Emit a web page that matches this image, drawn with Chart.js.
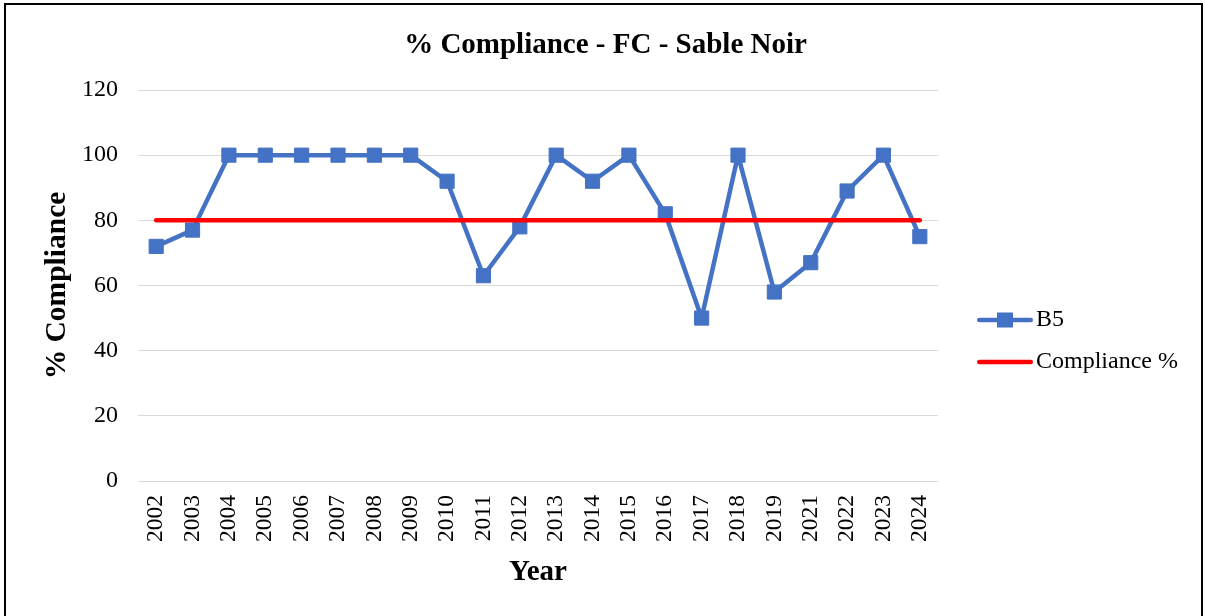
<!DOCTYPE html>
<html>
<head>
<meta charset="utf-8">
<script src="https://cdn.jsdelivr.net/npm/chart.js@4/dist/chart.umd.min.js"></script>
<style>
  html, body { margin: 0; padding: 0; background: #fff; overflow: hidden; }
  #wrap { position: relative; width: 1205px; height: 616px; }
  #c { position: absolute; left: 0; top: 0; }
  #frame { position: absolute; left: 4px; top: 3px; width: 1195px; height: 640px; border: 2px solid #000; pointer-events: none; }
</style>
</head>
<body>
<div id="wrap">
  <canvas id="c" width="1205" height="616"></canvas>
  <div id="frame"></div>
</div>
<script>
// ---- data ----
const categories = ['2002','2003','2004','2005','2006','2007','2008','2009','2010','2011','2012','2013','2014','2015','2016','2017','2018','2019','2021','2022','2023','2024'];
const b5Values = [72, 77, 100, 100, 100, 100, 100, 100, 92, 63, 78, 100, 92, 100, 82, 50, 100, 58, 67, 89, 100, 75];
const complianceValues = [80, 80, 80, 80, 80, 80, 80, 80, 80, 80, 80, 80, 80, 80, 80, 80, 80, 80, 80, 80, 80, 80];
const seriesNames = ['B5', 'Compliance %'];
const yMin = 0;
const yMax = 120;
const yStep = 20;

const FONT = "'Liberation Serif', 'Times New Roman', serif";
const BLUE = '#4472C4';
const RED = '#FF0000';

function legendImage(color, withMarker) {
  const cv = document.createElement('canvas');
  cv.width = 56; cv.height = 18;
  const g = cv.getContext('2d');
  g.strokeStyle = color;
  g.lineWidth = 4.5;
  g.lineCap = 'round';
  g.beginPath();
  g.moveTo(2.25, 9);
  g.lineTo(53.75, 9);
  g.stroke();
  if (withMarker) {
    g.fillStyle = color;
    g.fillRect(20, 1.5, 16, 15);
  }
  return cv;
}
const legendImgs = [legendImage(BLUE, true), legendImage(RED, false)];

const legendFix = {
  id: 'legendFix',
  beforeLayout(chart) {
    const lg = chart.legend;
    if (lg && !lg._patched) {
      const orig = lg.fit;
      lg.fit = function () { orig.call(this); this.width = 267; };
      lg._patched = true;
    }
  },
  afterLayout(chart) {
    const lg = chart.legend;
    if (!lg) return;
    lg.left = 968;
    lg.width = lg.right - lg.left;
    lg.top = 290;
    lg.bottom = 600;
    lg.height = lg.bottom - lg.top;
  }
};

new Chart(document.getElementById('c'), {
  type: 'line',
  data: {
    labels: categories,
    datasets: [
      {
        label: seriesNames[0],
        data: b5Values,
        borderColor: BLUE,
        backgroundColor: BLUE,
        borderWidth: 4.5,
        borderJoinStyle: 'round',
        borderCapStyle: 'round',
        pointStyle: 'rect',
        pointRadius: 10,
        pointBorderWidth: 1,
        pointBackgroundColor: BLUE,
        pointBorderColor: BLUE,
        tension: 0,
        order: 1
      },
      {
        label: seriesNames[1],
        data: complianceValues,
        borderColor: RED,
        backgroundColor: RED,
        borderWidth: 4.5,
        borderCapStyle: 'round',
        pointRadius: 0,
        tension: 0,
        order: 0
      }
    ]
  },
  options: {
    responsive: false,
    animation: false,
    devicePixelRatio: 1,
    events: [],
    layout: { padding: { left: 6, right: 0, top: 0, bottom: 0 } },
    plugins: {
      title: {
        display: true,
        text: '% Compliance - FC - Sable Noir',
        color: '#000',
        font: { family: FONT, size: 29, weight: 'bold' },
        padding: { top: 28, bottom: 27.2 }
      },
      legend: {
        display: true,
        position: 'right',
        align: 'start',
        labels: {
          color: '#000',
          font: { family: FONT, size: 24 },
          padding: 18,
          usePointStyle: true,
          pointStyleWidth: 38,
          sort: (a, b) => a.datasetIndex - b.datasetIndex,
          generateLabels: (chart) => Chart.defaults.plugins.legend.labels.generateLabels(chart).map((l) => Object.assign({}, l, { pointStyle: legendImgs[l.datasetIndex] }))
        }
      },
      tooltip: { enabled: false }
    },
    scales: {
      x: {
        offset: true,
        grid: { display: false, drawTicks: false },
        border: { display: false },
        ticks: {
          color: '#000',
          font: { family: FONT, size: 23.5 },
          minRotation: 90,
          maxRotation: 90,
          autoSkip: false,
          padding: 14
        },
        title: {
          display: true,
          text: 'Year',
          color: '#000',
          font: { family: FONT, size: 29, weight: 'bold' },
          padding: { top: 4, bottom: 25.6 }
        },
        afterFit: (scale) => { scale.height = 135; }
      },
      y: {
        min: yMin,
        max: yMax,
        grid: { color: '#D9D9D9', lineWidth: 1, drawTicks: false },
        border: { display: false },
        ticks: {
          stepSize: yStep,
          color: '#000',
          font: { family: FONT, size: 24 },
          padding: 20
        },
        title: {
          display: true,
          text: '% Compliance',
          color: '#000',
          font: { family: FONT, size: 29.5, weight: 'bold' },
          padding: { top: 33.5, bottom: 4 }
        },
        afterFit: (scale) => { scale.width = 132; }
      }
    }
  },
  plugins: [legendFix]
});
</script>
</body>
</html>
